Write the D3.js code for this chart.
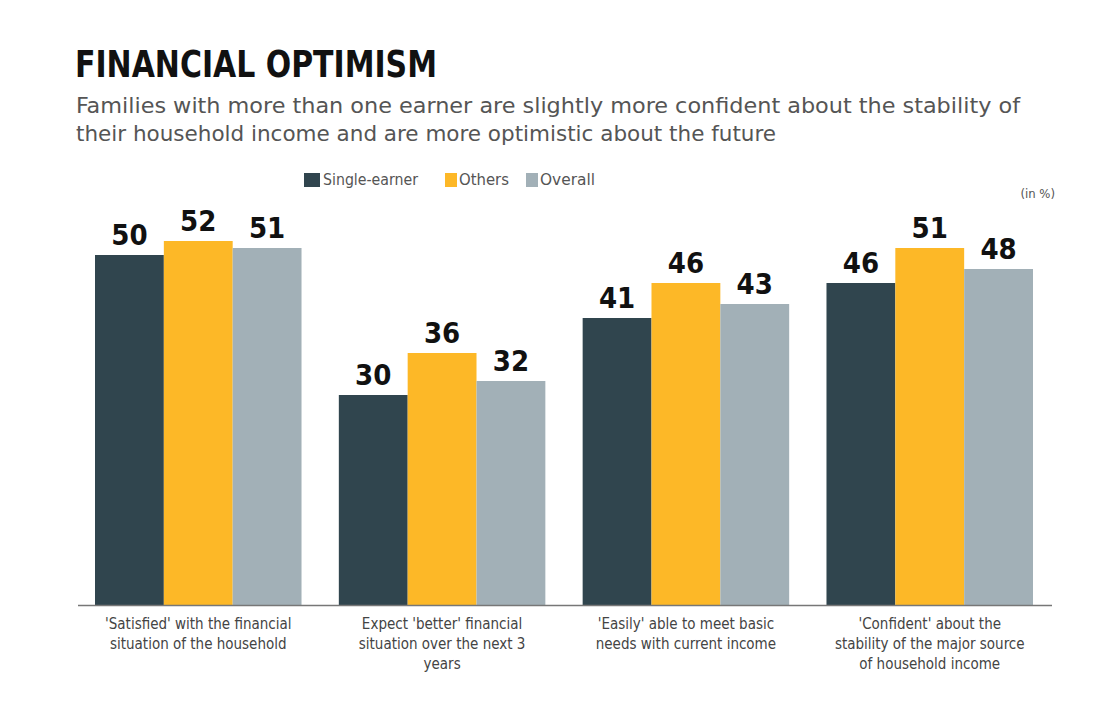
<!DOCTYPE html>
<html>
<head>
<meta charset="utf-8">
<script src="https://cdn.jsdelivr.net/npm/d3@7"></script>
<style>
  body { margin: 0; background: #fff; }
  svg { display: block; }
</style>
</head>
<body>
<svg id="chart"></svg>
<script>
// Chart data
var categories = [
  ["'Satisfied' with the financial", "situation of the household"],
  ["Expect 'better' financial", "situation over the next 3", "years"],
  ["'Easily' able to meet basic", "needs with current income"],
  ["'Confident' about the", "stability of the major source", "of household income"]
];
var seriesNames = ["Single-earner", "Others", "Overall"];
var singleEarner = [50, 30, 41, 46];
var others = [52, 36, 46, 51];
var overall = [51, 32, 43, 48];
var colors = ["#30454e", "#fdb827", "#a2b0b7"];

var svg = d3.select("#chart")
  .attr("width", 1100)
  .attr("height", 704);

// title + subtitle
svg.append("text")
  .attr("x", 75).attr("y", 77)
  .attr("textLength", 362).attr("lengthAdjust", "spacingAndGlyphs")
  .style("font-family", "'DejaVu Sans Condensed', 'Liberation Sans Narrow', sans-serif")
  .style("font-weight", "bold").style("font-size", "37px")
  .style("fill", "#111")
  .text("FINANCIAL OPTIMISM");

var sub = [
  "Families with more than one earner are slightly more confident about the stability of",
  "their household income and are more optimistic about the future"
];
var subLen = [944, 700];
svg.selectAll("text.sub")
  .data(sub)
  .enter().append("text")
  .attr("class", "sub")
  .attr("x", 76)
  .attr("y", function(d, i) { return 113 + i * 28; })
  .attr("textLength", function(d, i) { return subLen[i]; })
  .attr("lengthAdjust", "spacingAndGlyphs")
  .style("font-family", "'DejaVu Sans Condensed', 'Liberation Sans Narrow', sans-serif")
  .style("font-size", "22px")
  .style("fill", "#555")
  .text(function(d) { return d; });

// legend
var legendX = [304, 445, 526];
var legendLen = [95, 50, 55];
var legend = svg.selectAll("g.legend")
  .data(seriesNames)
  .enter().append("g")
  .attr("class", "legend")
  .attr("transform", function(d, i) { return "translate(" + legendX[i] + ",173)"; });
legend.append("rect")
  .attr("width", function(d, i) { return i === 0 ? 16 : 12; }).attr("height", 14)
  .attr("fill", function(d, i) { return colors[i]; });
legend.append("text")
  .attr("x", function(d, i) { return i === 0 ? 19 : 14; }).attr("y", 12)
  .attr("textLength", function(d, i) { return legendLen[i]; })
  .attr("lengthAdjust", "spacingAndGlyphs")
  .style("font-family", "'DejaVu Sans Condensed', sans-serif")
  .style("font-size", "15px")
  .style("fill", "#555")
  .text(function(d) { return d; });

svg.append("text")
  .attr("x", 1055).attr("y", 198)
  .attr("text-anchor", "end")
  .style("font-family", "'DejaVu Sans Condensed', sans-serif")
  .style("font-size", "13px")
  .style("fill", "#555")
  .text("(in %)");

// scales
var x0 = d3.scaleBand()
  .domain(d3.range(categories.length))
  .range([95, 1033])
  .paddingInner(0.153)
  .paddingOuter(0);
var x1 = d3.scaleBand()
  .domain(d3.range(seriesNames.length))
  .range([0, x0.bandwidth()]);
var y = d3.scaleLinear()
  .domain([0, 52])
  .range([605, 241]);

var series = [singleEarner, others, overall];
var rows = [];
categories.forEach(function(c, ci) {
  series.forEach(function(s, si) {
    rows.push({ cat: ci, ser: si, value: s[ci] });
  });
});

svg.selectAll("rect.bar")
  .data(rows)
  .enter().append("rect")
  .attr("class", "bar")
  .attr("x", function(d) { return x0(d.cat) + x1(d.ser); })
  .attr("y", function(d) { return y(d.value); })
  .attr("width", x1.bandwidth())
  .attr("height", function(d) { return y(0) - y(d.value); })
  .attr("fill", function(d) { return colors[d.ser]; });

svg.selectAll("text.val")
  .data(rows)
  .enter().append("text")
  .attr("class", "val")
  .attr("x", function(d) { return x0(d.cat) + x1(d.ser) + x1.bandwidth() / 2; })
  .attr("y", function(d) { return y(d.value) - 10; })
  .attr("text-anchor", "middle")
  .style("font-family", "'DejaVu Sans Condensed', 'Liberation Sans Narrow', sans-serif")
  .style("font-weight", "bold")
  .style("font-size", "29px")
  .style("fill", "#111")
  .text(function(d) { return d.value; });

// baseline
svg.append("line")
  .attr("x1", 78).attr("x2", 1052)
  .attr("y1", y(0) + 0.5).attr("y2", y(0) + 0.5)
  .style("stroke", "#777")
  .style("stroke-width", 1.5);

// category labels
var catG = svg.selectAll("g.cat")
  .data(categories)
  .enter().append("g")
  .attr("class", "cat")
  .attr("transform", function(d, i) {
    return "translate(" + (x0(i) + x0.bandwidth() / 2) + ",629)";
  });
catG.selectAll("text")
  .data(function(d) { return d; })
  .enter().append("text")
  .attr("y", function(d, i) { return i * 20; })
  .attr("text-anchor", "middle")
  .style("font-family", "'DejaVu Sans Condensed', sans-serif")
  .style("font-size", "15px")
  .style("fill", "#444")
  .text(function(d) { return d; });
</script>
</body>
</html>
